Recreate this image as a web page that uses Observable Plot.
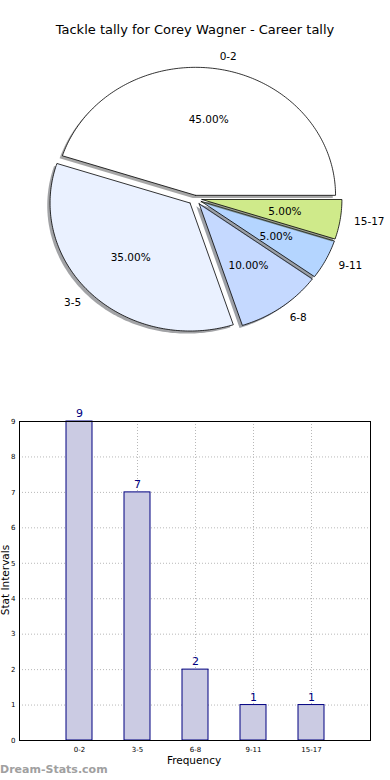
<!DOCTYPE html>
<html><head><meta charset="utf-8">
<script src="https://cdn.jsdelivr.net/npm/d3@7"></script>
<script src="https://cdn.jsdelivr.net/npm/@observablehq/plot@0.6"></script>
<style>
body{margin:0;background:#fff;width:390px;height:780px;position:relative;overflow:hidden;font-family:"DejaVu Sans",sans-serif;}
#pie{position:absolute;top:0;left:0;}
#bar{position:absolute;top:400px;left:0;}
#title{position:absolute;top:22px;left:0;width:390px;text-align:center;font-size:13px;line-height:16px;color:#000;}
#ylab{position:absolute;left:-45px;top:574px;width:100px;text-align:center;font-size:10.5px;line-height:12px;transform:rotate(-90deg);color:#000;}
#xlab{position:absolute;left:144px;top:754px;width:100px;text-align:center;font-size:10.5px;line-height:13px;color:#000;}
#wm{position:absolute;left:0;top:763px;font-size:11px;font-weight:bold;color:#a0a0a0;line-height:14px;}
</style></head>
<body>
<div id="pie"></div>
<div id="bar"></div>
<div id="title">Tackle tally for Corey Wagner - Career tally</div>
<div id="ylab">Stat Intervals</div>
<div id="xlab">Frequency</div>
<div id="wm">Dream-Stats.com</div>
<script>
// ---- data ----
const pieLabels = ["0-2", "3-5", "6-8", "9-11", "15-17"];
const pieShares = [45, 35, 10, 5, 5];
const pieColors = ["#ffffff", "#eaf1ff", "#c5d9ff", "#b4d5ff", "#cfea8a"];
const pieExplode = [0.025, 0.05, 0.05, 0.05, 0.05];

const barCats = ["0-2", "3-5", "6-8", "9-11", "15-17"];
const barVals = [9, 7, 2, 1, 1];
const yTicks = [0, 1, 2, 3, 4, 5, 6, 7, 8, 9];

// ---- pie geometry (data units, radius 1) ----
const total = d3.sum(pieShares);
let acc = 0;
const slices = pieShares.map((v, i) => {
  const a0 = acc / total * 360;
  acc += v;
  const a1 = acc / total * 360;
  const mid = (a0 + a1) / 2 * Math.PI / 180;
  const ox = pieExplode[i] * Math.cos(mid), oy = pieExplode[i] * Math.sin(mid);
  const pts = [{x: ox, y: oy}];
  const n = Math.max(2, Math.ceil(a1 - a0));
  for (let k = 0; k <= n; k++) {
    const a = (a0 + (a1 - a0) * k / n) * Math.PI / 180;
    pts.push({x: ox + Math.cos(a), y: oy + Math.sin(a)});
  }
  pts.push({x: ox, y: oy});
  return {label: pieLabels[i], share: v, color: pieColors[i], mid, ox, oy, pts};
});

const pieMarks = [];
slices.forEach(s => {
  const shadow = s.pts.map(p => ({x: p.x - 0.02, y: p.y - 0.02}));
  const c = d3.rgb(s.color);
  const sc = d3.rgb(c.r * 0.3, c.g * 0.3, c.b * 0.3).formatHex();
  pieMarks.push(Plot.line(shadow, {x: "x", y: "y", fill: sc, fillOpacity: 0.5, stroke: "none"}));
  pieMarks.push(Plot.line(s.pts, {x: "x", y: "y", fill: s.color, stroke: "#000", strokeWidth: 0.8, strokeLinejoin: "miter"}));
});
const lab = slices.map(s => ({
  text: s.label,
  x: s.ox + 1.1 * Math.cos(s.mid), y: s.oy + 1.1 * Math.sin(s.mid),
  px: s.ox + 0.6 * Math.cos(s.mid), py: s.oy + 0.6 * Math.sin(s.mid),
  pct: s.share.toFixed(2) + "%", right: Math.cos(s.mid) > 0
}));
pieMarks.push(Plot.text(lab.filter(d => d.right), {x: "x", y: "y", text: "text", textAnchor: "start", fontSize: 10.5, fill: "#000"}));
pieMarks.push(Plot.text(lab.filter(d => !d.right), {x: "x", y: "y", text: "text", textAnchor: "end", fontSize: 10.5, fill: "#000"}));
pieMarks.push(Plot.text(lab, {x: "px", y: "py", text: "pct", fontSize: 10.5, fill: "#000"}));

const cx = 194.5, cy = 198, rx = 140, ry = 128, PW = 390, PH = 380;
const pie = Plot.plot({
  width: PW, height: PH, margin: 0,
  style: {fontFamily: "DejaVu Sans, sans-serif", background: "transparent"},
  x: {domain: [-cx / rx, (PW - cx) / rx], axis: null},
  y: {domain: [-(PH - cy) / ry, cy / ry], axis: null},
  marks: pieMarks
});
document.getElementById("pie").appendChild(pie);

// ---- bar chart ----
const barData = barCats.map((c, i) => ({cat: c, val: barVals[i]}));
const grid = {stroke: "#b8b8b8", strokeDasharray: "1,2", strokeWidth: 1};
const bar = Plot.plot({
  width: 390, height: 380,
  marginTop: 21, marginBottom: 40, marginLeft: 19, marginRight: 20,
  style: {fontFamily: "DejaVu Sans, sans-serif", background: "transparent", color: "#000"},
  x: {domain: barCats, paddingInner: 0.556, paddingOuter: 0.778},
  y: {domain: [0, 9]},
  marks: [
    Plot.ruleY(yTicks.slice(1, -1), grid),
    Plot.ruleX(barCats, {x: d => d, ...grid}),
    Plot.barY(barData, {x: "cat", y: "val", fill: "#cbcbe3", stroke: "#000080", strokeWidth: 1}),
    Plot.text(barData, {x: "cat", y: "val", text: d => String(d.val), dy: -8, fill: "#000080", fontSize: 11}),
    Plot.axisX({tickSize: 0, tickPadding: 7, fontSize: 7, label: null}),
    Plot.axisY({ticks: yTicks, tickSize: 0, tickPadding: 4, fontSize: 7, label: null}),
    Plot.frame({stroke: "#000", strokeWidth: 1})
  ]
});
document.getElementById("bar").appendChild(bar);
</script>
</body></html>
